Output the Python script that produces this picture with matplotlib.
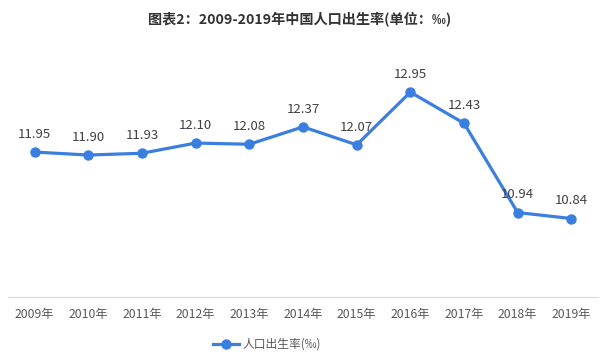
import matplotlib
matplotlib.use("Agg")
import matplotlib.pyplot as plt

plt.rcParams['font.family'] = ['Noto Sans CJK SC', 'DejaVu Sans']

# data
years = ["2009年", "2010年", "2011年", "2012年", "2013年", "2014年",
         "2015年", "2016年", "2017年", "2018年", "2019年"]
birth_rate = [11.95, 11.90, 11.93, 12.10, 12.08, 12.37, 12.07, 12.95, 12.43, 10.94, 10.84]
series_name = "人口出生率(‰)"
title = "图表2：2009-2019年中国人口出生率(单位：‰)"

line_color = "#3a7fe0"

fig = plt.figure(figsize=(6, 3.57), dpi=100)
ax = fig.add_axes([0.013, 0.168, 0.984, 0.683])

x = list(range(len(years)))
ax.plot(x, birth_rate, color=line_color, lw=2.3, marker="o", ms=6.5,
        label=series_name, zorder=3)

for xi, v in zip(x, birth_rate):
    ax.annotate(f"{v:.2f}", (xi, v), xytext=(0, 8), textcoords="offset points",
                ha="center", va="bottom", fontsize=9.5, color="#404040")

ax.set_xlim(-0.5, len(years) - 0.5)
ax.set_ylim(9.53, 13.6)
ax.set_xticks(x)
ax.set_xticklabels(years, fontsize=8.8, color="#595959")
ax.set_yticks([])
ax.tick_params(axis="x", length=0, pad=8)
for s in ["top", "right", "left"]:
    ax.spines[s].set_visible(False)
ax.spines["bottom"].set_color("#d9d9d9")

fig.text(0.5, 0.945, title, ha="center", va="center", fontsize=10.2,
         fontweight="bold", color="#333333")

fig.legend(loc="center", bbox_to_anchor=(0.445, 0.035), frameon=False,
           fontsize=8.5, labelcolor="#595959", handlelength=2.2,
           handletextpad=0.3)

fig.savefig("out.png", dpi=100)
